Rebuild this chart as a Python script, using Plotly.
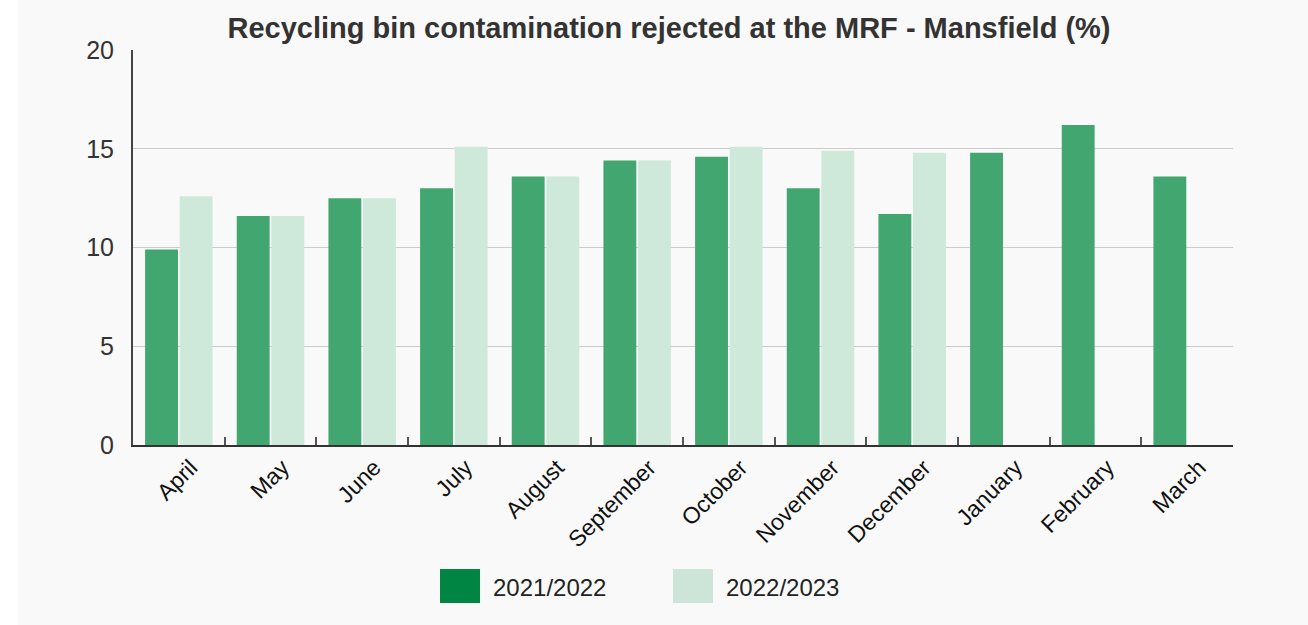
import plotly.graph_objects as go

months = ["April", "May", "June", "July", "August", "September", "October",
          "November", "December", "January", "February", "March"]
season_2021 = [9.9, 11.6, 12.5, 13.0, 13.6, 14.4, 14.6, 13.0, 11.7, 14.8, 16.2, 13.6]
season_2022 = [12.6, 11.6, 12.5, 15.1, 13.6, 14.4, 15.1, 14.9, 14.8, None, None, None]
series_names = ["2021/2022", "2022/2023"]
y_ticks = [0, 5, 10, 15, 20]

bar_colors = ["#42a671", "#cee8da"]
legend_colors = ["#008542", "#cde5d8"]

W, H = 1308, 625
L, R, T, B = 133, 75, 50, 180
pw, ph = W - L - R, H - T - B


def px_x(x):
    return (x - L) / pw


def px_y(y):
    return (H - B - y) / ph


fig = go.Figure()
for name, vals, col in zip(series_names, [season_2021, season_2022], bar_colors):
    fig.add_trace(go.Bar(
        x=months, y=vals, name=name,
        marker=dict(color=col, line=dict(width=0)),
        showlegend=False,
    ))

shapes = [
    # light panel behind the chart
    dict(type="rect", xref="paper", yref="paper", layer="below",
         x0=px_x(18), x1=px_x(W + 5), y0=px_y(H + 5), y1=px_y(-5),
         fillcolor="#f9f9f9", line=dict(width=0)),
]
annotations = []

# legend swatches and labels
legend_x = [440, 673]
for name, col, lx in zip(series_names, legend_colors, legend_x):
    shapes.append(dict(type="rect", xref="paper", yref="paper",
                       x0=px_x(lx), x1=px_x(lx + 40),
                       y0=px_y(603), y1=px_y(569),
                       fillcolor=col, line=dict(width=0)))
    annotations.append(dict(xref="paper", yref="paper",
                            x=px_x(lx + 51), y=px_y(587),
                            xanchor="left", yanchor="middle",
                            text=name, showarrow=False,
                            font=dict(family="Liberation Sans, Arial", size=24, color="#222")))

fig.update_layout(
    width=W, height=H,
    margin=dict(l=L, r=R, t=T, b=B),
    paper_bgcolor="white",
    plot_bgcolor="#f9f9f9",
    barmode="group",
    bargap=0.245,
    bargroupgap=0.05,
    title=dict(text="<b>Recycling bin contamination rejected at the MRF - Mansfield (%)</b>",
               x=669 / W, xanchor="center", y=1 - 28 / H, yanchor="middle",
               font=dict(family="Liberation Sans, Arial", size=29, color="#333")),
    font=dict(family="Liberation Sans, Arial", color="#222"),
    shapes=shapes,
    annotations=annotations,
)

fig.update_xaxes(
    showline=True, linecolor="#333", linewidth=2,
    ticks="inside", tickson="boundaries", ticklen=8, tickcolor="#555", tickwidth=2,
    tickangle=-45, tickfont=dict(size=23, color="#111"),
    ticklabelshift=12, ticklabelstandoff=-2,
    showgrid=False,
)
fig.update_yaxes(
    range=[0, 20], tickvals=y_ticks,
    showline=True, linecolor="#444", linewidth=2,
    showgrid=True, gridcolor="#cccccc", gridwidth=1,
    zeroline=False, ticks="", ticklabelstandoff=12,
    tickfont=dict(size=25, color="#333"),
)

fig.write_html("out.html")
